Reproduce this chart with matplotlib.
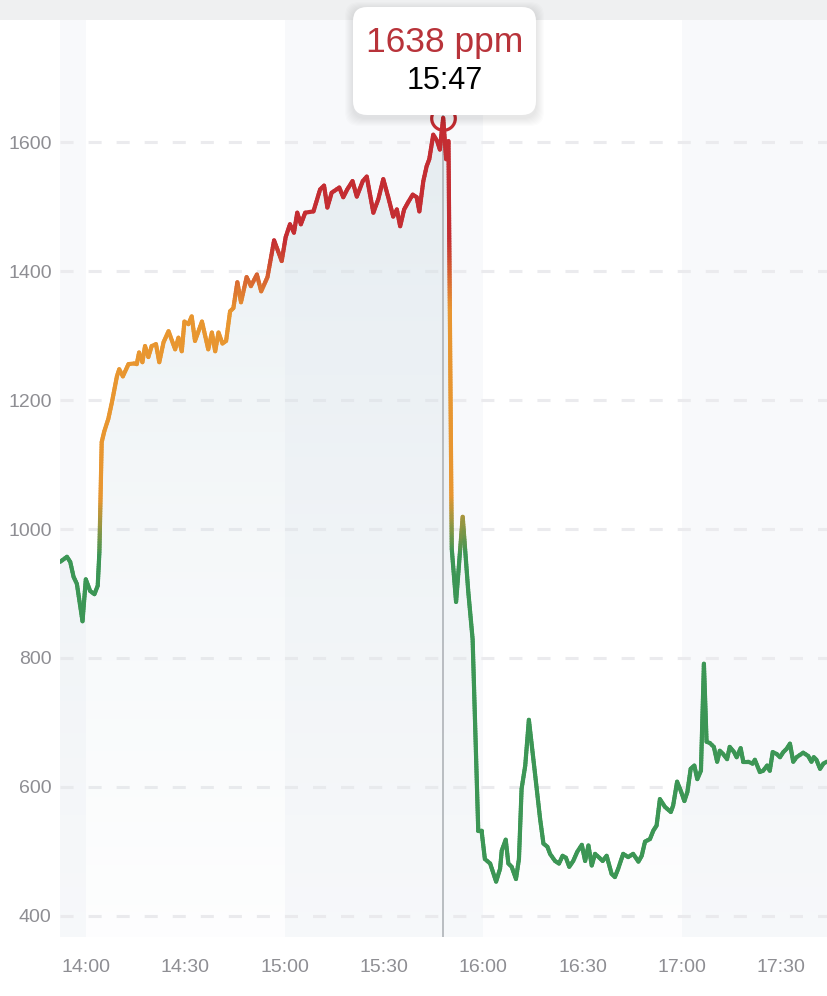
import numpy as np
import matplotlib.pyplot as plt
from matplotlib.collections import LineCollection
from matplotlib.colors import LinearSegmentedColormap, Normalize
from matplotlib.patches import FancyBboxPatch, Polygon, Rectangle

plt.rcParams['font.family'] = ['Liberation Sans', 'DejaVu Sans']
plt.rcParams['lines.scale_dashes'] = False

# minutes after 14:00 and CO2 readings (ppm)
minutes = [-7.9, -5.8, -4.8, -3.8, -2.8, -1.1, -0.1, 1.2, 2.5, 3.5,
           4.0, 4.7, 5.5, 6.7, 7.8, 9.3, 10.0, 11.1, 12.8, 14.5,
           15.3, 16.0, 17.0, 17.8, 18.8, 19.8, 21.1, 22.1, 23.4, 24.9,
           26.9, 27.9, 28.9, 29.7, 30.9, 31.9, 32.9, 35.0, 36.9, 38.0,
           39.0, 40.0, 41.2, 42.3, 43.5, 44.5, 45.7, 46.8, 48.5, 49.8,
           51.6, 52.9, 54.8, 56.8, 59.1, 60.3, 61.6, 62.8, 63.8, 64.9,
           66.2, 68.7, 70.7, 71.9, 72.9, 74.2, 76.5, 77.7, 78.9, 80.5,
           81.8, 83.6, 84.8, 86.8, 88.3, 89.8, 91.3, 92.8, 93.9, 94.9,
           96.1, 97.4, 98.7, 99.9, 100.7, 101.9, 102.9, 103.7, 104.9, 106.1,
           106.9, 107.9, 108.8, 109.5, 110.5, 111.8, 113.8, 115.5, 116.8, 118.5,
           119.5, 120.5, 122.1, 123.9, 125.1, 125.6, 126.8, 127.6, 128.6, 129.9,
           130.8, 131.6, 132.7, 133.8, 135.6, 137.2, 138.2, 139.4, 140.2, 141.7,
           142.9, 144.0, 145.0, 146.0, 147.2, 148.4, 149.8, 150.8, 151.8, 152.8,
           153.8, 155.1, 156.1, 157.3, 158.8, 159.8, 160.8, 162.3, 163.8, 165.3,
           166.9, 167.9, 168.9, 170.4, 171.4, 172.4, 173.4, 174.9, 176.7, 177.4,
           178.6, 179.7, 180.8, 181.7, 182.7, 183.8, 184.7, 185.8, 186.7, 187.5,
           188.5, 189.7, 190.7, 191.5, 192.5, 193.7, 194.5, 195.8, 196.6, 197.8,
           198.6, 200.1, 201.4, 202.1, 203.6, 204.6, 205.8, 206.6, 207.5, 208.7,
           209.7, 210.7, 211.7, 212.7, 213.7, 214.7, 216.7, 218.2, 219.2, 219.9,
           220.7, 221.8, 222.8, 223.8]
ppm = [949, 957, 949, 926, 915, 857, 922, 904, 899, 912,
       964, 1135, 1152, 1171, 1197, 1237, 1248, 1237, 1256, 1257,
       1256, 1274, 1259, 1284, 1267, 1284, 1287, 1259, 1290, 1307,
       1279, 1297, 1276, 1322, 1318, 1330, 1292, 1322, 1279, 1305,
       1276, 1305, 1288, 1292, 1338, 1343, 1383, 1352, 1391, 1377,
       1395, 1369, 1391, 1448, 1416, 1453, 1473, 1460, 1491, 1473,
       1491, 1493, 1527, 1533, 1499, 1522, 1530, 1515, 1527, 1540,
       1516, 1540, 1547, 1491, 1512, 1543, 1515, 1485, 1496, 1470,
       1496, 1508, 1519, 1515, 1493, 1540, 1563, 1574, 1612, 1602,
       1589, 1638, 1574, 1602, 969, 887, 1019, 902, 829, 532,
       532, 488, 481, 453, 473, 501, 518, 481, 476, 457,
       488, 597, 633, 704, 623, 550, 512, 507, 496, 485,
       481, 493, 490, 476, 485, 499, 510, 485, 509, 478,
       496, 490, 485, 493, 465, 460, 473, 496, 491, 496,
       484, 493, 515, 519, 532, 540, 581, 569, 561, 571,
       608, 594, 578, 592, 628, 633, 612, 625, 791, 670,
       668, 662, 639, 656, 651, 643, 662, 654, 646, 660,
       639, 639, 636, 642, 623, 625, 633, 625, 654, 651,
       646, 654, 659, 667, 639, 646, 653, 648, 639, 646,
       642, 628, 636, 639]

tick_minutes = [0, 30, 60, 90, 120, 150, 180, 210]
tick_labels = ['14:00', '14:30', '15:00', '15:30', '16:00', '16:30', '17:00', '17:30']
y_ticks = [400, 600, 800, 1000, 1200, 1400, 1600]
shaded_hours = [(-8, 0), (60, 120), (180, 240)]
peak_time = 107.9
peak_value = 1638
peak_text = '1638 ppm'
peak_clock = '15:47'

W, H = 828, 996
XMIN, XMAX = -7.9, 224.2
YMIN, YMAX = 367, 1790

fig = plt.figure(figsize=(W / 100, H / 100), dpi=100)
ax = fig.add_axes([60 / W, (H - 937) / H, (W - 60) / W, (937 - 20) / H])
ax.set_xlim(XMIN, XMAX)
ax.set_ylim(YMIN, YMAX)
for s in ax.spines.values():
    s.set_visible(False)

# hour bands
for a, b in shaded_hours:
    ax.axvspan(a, b, color='#f8f9fb', lw=0, zorder=0)

# dashed grid
for yv in y_ticks:
    ax.axhline(yv, color='#ebebee', lw=2.2, linestyle=(0, (9.4, 10.8)), zorder=0.5)

t = np.array(minutes)
v = np.array(ppm)

# gradient fill under the line
poly = Polygon(np.column_stack([np.r_[t[0], t, t[-1]], np.r_[YMIN, v, YMIN]]),
               closed=True, facecolor='none', edgecolor='none')
ax.add_patch(poly)
fill_cmap = LinearSegmentedColormap.from_list(
    'fill', [(0.86, 0.90, 0.92, 0.04), (0.80, 0.86, 0.89, 0.48)])
grad = np.linspace(0, 1, 256).reshape(-1, 1)
im = ax.imshow(grad, extent=[XMIN, XMAX, YMIN, YMAX], origin='lower',
               aspect='auto', cmap=fill_cmap, zorder=1)
im.set_clip_path(poly)

# vertical marker line
ax.axvline(peak_time, color='#a9adb2', lw=1.1, zorder=2)

# line coloured by value
line_cmap = LinearSegmentedColormap.from_list('co2', [
    (0.0, '#3c9655'), ((960 - 400) / 1300, '#3c9655'),
    ((1050 - 400) / 1300, '#e89630'), ((1340 - 400) / 1300, '#e89630'),
    ((1450 - 400) / 1300, '#c42d32'), (1.0, '#c42d32')])
norm = Normalize(400, 1700)
segs, cols = [], []
for i in range(len(t) - 1):
    n = int(abs(v[i + 1] - v[i]) / 4) + 2
    xx = np.linspace(t[i], t[i + 1], n)
    yy = np.linspace(v[i], v[i + 1], n)
    for j in range(n - 1):
        segs.append([(xx[j], yy[j]), (xx[j + 1], yy[j + 1])])
        cols.append(line_cmap(norm((yy[j] + yy[j + 1]) / 2)))
lc = LineCollection(segs, colors=cols, linewidths=3.0, capstyle='round',
                    joinstyle='round', zorder=3)
ax.add_collection(lc)

ax.plot(peak_time, peak_value, 'o', ms=17, mfc='none', mec='#c42d32', mew=2.3, zorder=4)

ax.set_yticks(y_ticks)
ax.set_xticks(tick_minutes)
ax.set_xticklabels(tick_labels)
ax.tick_params(axis='y', length=0, pad=6, labelsize=14, labelcolor='#8e8e93')
ax.tick_params(axis='x', length=0, pad=16, labelsize=14, labelcolor='#8e8e93')

# overlay in pixel coordinates: top bar and tooltip
ov = fig.add_axes([0, 0, 1, 1], zorder=10)
ov.set_xlim(0, W)
ov.set_ylim(H, 0)
ov.axis('off')
ov.patch.set_alpha(0)
ov.add_patch(Rectangle((0, 0), W, 20, color='#eff0f1', lw=0))

bx, by, bw, bh, r = 353, 7, 183, 108, 14
for k in range(1, 9):
    ov.add_patch(FancyBboxPatch((bx + r - k, by + r - k + 3), bw - 2 * r + 2 * k, bh - 2 * r + 2 * k,
                                boxstyle='round,pad=%d' % r, facecolor='black',
                                edgecolor='none', alpha=0.012))
ov.add_patch(FancyBboxPatch((bx + r, by + r), bw - 2 * r, bh - 2 * r,
                            boxstyle='round,pad=%d' % r, facecolor='white', edgecolor='none'))
ov.text(bx + bw / 2, 42, peak_text, ha='center', va='center', fontsize=25.5, color='#b8333a')
ov.text(bx + bw / 2, 81, peak_clock, ha='center', va='center', fontsize=22, color='black')

fig.savefig('out.png', dpi=100)
